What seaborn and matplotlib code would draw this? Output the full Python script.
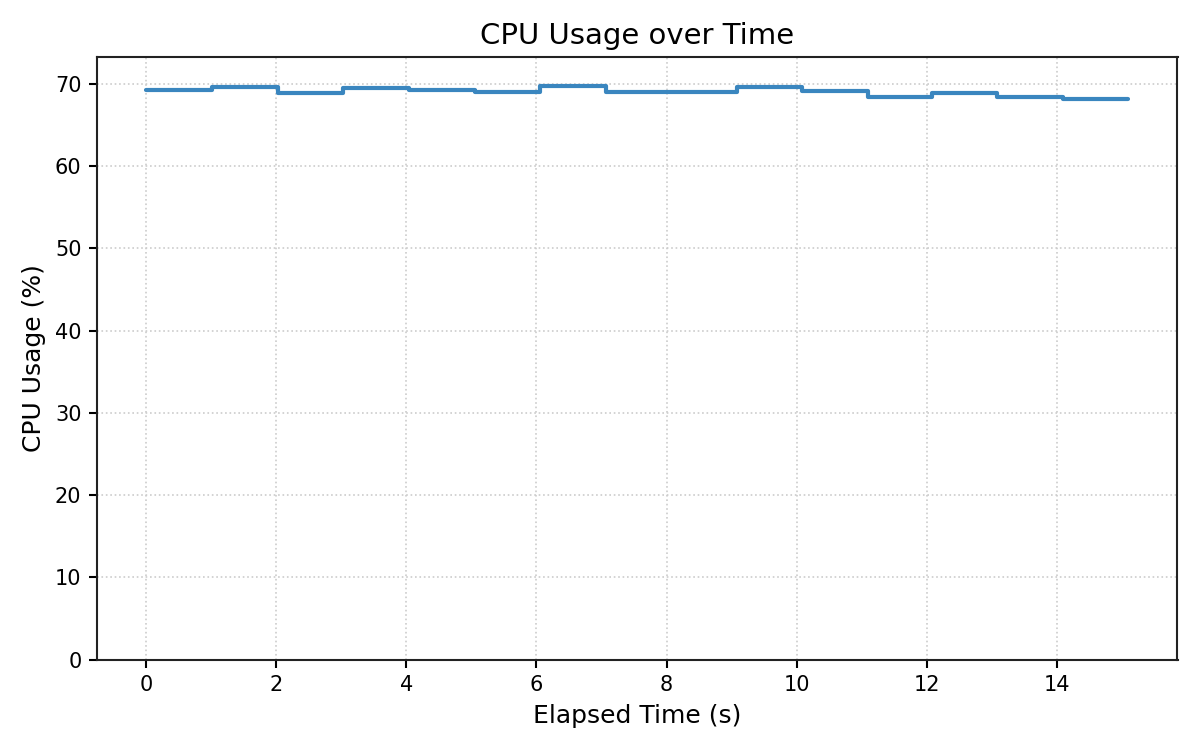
import numpy as np
import pandas as pd
import matplotlib
matplotlib.use("Agg")
import matplotlib.pyplot as plt
import seaborn as sns

# Sample timestamps (s) and CPU readings (%)
elapsed = [0.0, 1.01, 2.02, 3.03, 4.04, 5.05, 6.06, 7.07, 8.07,
           9.08, 10.08, 11.09, 12.08, 13.08, 14.09, 15.1]
cpu_pct = [69.27, 69.67, 68.94, 69.51, 69.30, 69.06, 69.80, 69.03, 69.03,
           69.67, 69.18, 68.45, 68.90, 68.45, 68.20, 68.20]

df = pd.DataFrame({"elapsed": elapsed, "cpu": cpu_pct})

sns.set_style("white")
plt.rcParams['font.family'] = ['DejaVu Sans']
plt.rcParams['text.color'] = 'black'
plt.rcParams['axes.labelcolor'] = 'black'
plt.rcParams['xtick.color'] = 'black'
plt.rcParams['ytick.color'] = 'black'

fig, ax = plt.subplots(figsize=(8, 5), dpi=150)
sns.lineplot(data=df, x="elapsed", y="cpu", ax=ax, color="#3a86bf",
             linewidth=2, drawstyle="steps-post")

ax.set_ylim(0, max(cpu_pct) * 1.05)
ax.set_title("CPU Usage over Time", fontsize=14, color="black")
ax.set_xlabel("Elapsed Time (s)", fontsize=12)
ax.set_ylabel("CPU Usage (%)", fontsize=12)
ax.grid(True, linestyle=":", color="#cccccc", linewidth=0.8)
ax.tick_params(axis="both", labelsize=10, length=4, width=1,
               colors="black", bottom=True, left=True)
for sp in ax.spines.values():
    sp.set_visible(True)
    sp.set_color("#222222")
    sp.set_linewidth(1)

plt.tight_layout()
plt.savefig("out.png", dpi=150)
